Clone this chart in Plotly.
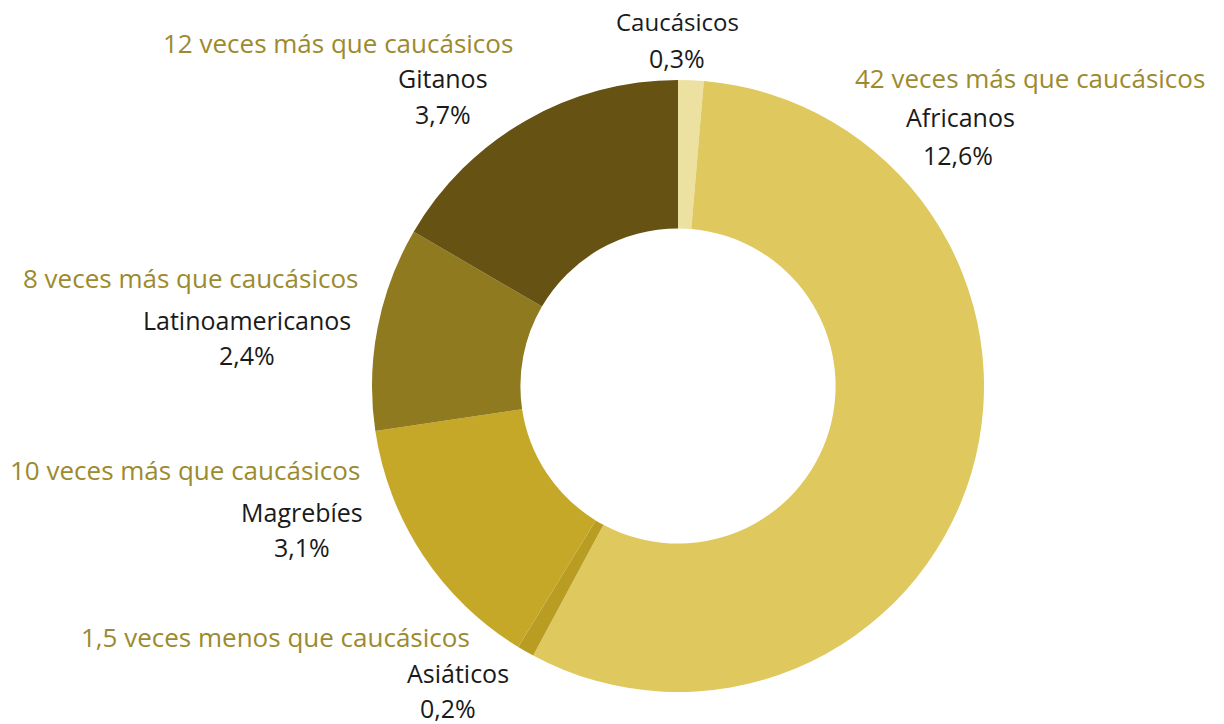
import plotly.graph_objects as go

W, H = 1224, 724

categories = ["Caucásicos", "Africanos", "Asiáticos", "Magrebíes", "Latinoamericanos", "Gitanos"]
values = [0.3, 12.6, 0.2, 3.1, 2.4, 3.7]
value_labels = ["0,3%", "12,6%", "0,2%", "3,1%", "2,4%", "3,7%"]
comparisons = ["", "42 veces más que caucásicos", "1,5 veces menos que caucásicos",
               "10 veces más que caucásicos", "8 veces más que caucásicos",
               "12 veces más que caucásicos"]
colors = ["#EDE1A2", "#DFC85E", "#B99C22", "#C6A828", "#8F7A1F", "#665213"]

# label placement (pixel centers): comparison line, name line, value line
comp_pos = [None, (1030, 78), (275, 637), (185, 470), (190, 278), (338, 43)]
name_pos = [(677, 22), (960, 117), (458, 673), (302, 512), (247, 320), (443, 78)]
val_pos = [(677, 58), (958, 155), (448, 708), (302, 547), (247, 355), (443, 114)]

cx, cy, r = 678, 386, 306

fig = go.Figure(go.Pie(
    labels=categories, values=values, sort=False, direction="clockwise",
    rotation=0, hole=0.515, textinfo="none", hoverinfo="label+value",
    marker=dict(colors=colors, line=dict(width=0)),
    domain=dict(x=[(cx - r) / W, (cx + r) / W], y=[(H - cy - r) / H, (H - cy + r) / H]),
    showlegend=False,
))

FONT = "Open Sans"
ann = []
def add(text, pos, color, size):
    x, y = pos
    ann.append(dict(text=text, x=x / W, y=1 - y / H, xref="paper", yref="paper",
                    xanchor="center", yanchor="middle", showarrow=False,
                    font=dict(family=FONT, size=size, color=color)))

for i in range(len(categories)):
    if comparisons[i]:
        add(comparisons[i], comp_pos[i], "#9C8A2E", 26)
    add(categories[i], name_pos[i], "#1a1a1a", 24 if i == 0 else 25)
    add(value_labels[i], val_pos[i], "#1a1a1a", 25)

fig.update_layout(width=W, height=H, margin=dict(l=0, r=0, t=0, b=0),
                  paper_bgcolor="white", plot_bgcolor="white", annotations=ann)
fig.write_html("out.html", config={"displayModeBar": False},
               post_script="document.body.style.margin='0';document.body.style.overflow='hidden';")
